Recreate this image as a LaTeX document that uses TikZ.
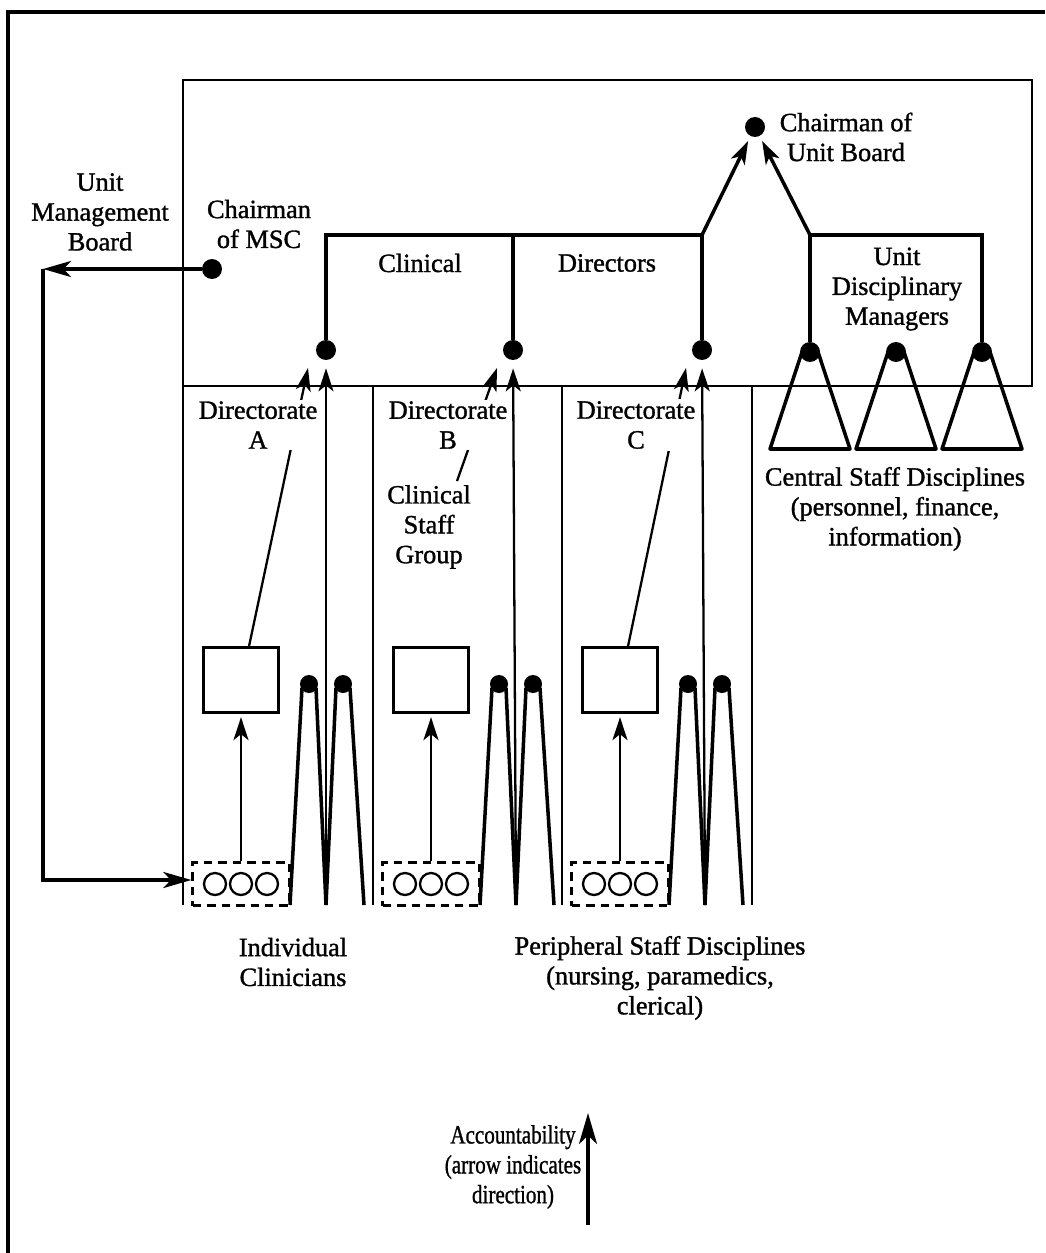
\documentclass[tikz,border=0pt]{standalone}
\usepackage{fontspec}
\setmainfont{Liberation Serif}[FakeBold=1.2]
\usetikzlibrary{arrows.meta,calc}

\begin{document}
\begin{tikzpicture}[x=0.02cm, y=-0.02cm,
    lbl/.style={font=\fontsize{15}{17}\selectfont, align=center, inner sep=1pt},
    wlbl/.style={lbl, fill=white},
    dot/.style={circle, fill=black, inner sep=0pt, minimum size=0.4cm},
    peak/.style={circle, fill=black, inner sep=0pt, minimum size=0.36cm},
    heavy/.style={line width=2pt},
    fine/.style={line width=1.3pt},
    tip/.style={-{Stealth[length=0.46cm, width=0.3cm, inset=0.12cm]}},
    bigtip/.style={-{Stealth[length=0.56cm, width=0.32cm, inset=0.15cm]}}]
  \useasboundingbox (0,0) rectangle (1045,1253);

  % frame
  \draw[heavy] (8,1253) -- (8,12) -- (1045,12);

  % unit box and the three columns
  \draw[fine] (183,905) -- (183,80) -- (1032,80) -- (1032,386) -- (183,386);
  \foreach \x in {373,562,752}
    \draw[fine] (\x,386) -- (\x,905);

  % dots
  \node[dot] (cub) at (755,127) {};
  \node[dot] (msc) at (212,269) {};
  \node[dot] (dA) at (326,350) {};
  \node[dot] (dB) at (513,350) {};
  \node[dot] (dC) at (702,350) {};

  % central staff disciplines
  \foreach \t/\m in {1/810,2/896,3/982} {
    \draw[heavy, line join=round] (\m-8,352) -- (\m-40,449) -- (\m+40,449) -- (\m+8,352);
    \node[dot] (t\t) at (\m,352) {};
  }

  % clinical directors and unit disciplinary managers
  \coordinate (jA) at (326,235);
  \coordinate (jB) at (513,235);
  \coordinate (jC) at (702,235);
  \coordinate (jU) at (810,235);
  \coordinate (jR) at (982,235);
  \draw[heavy] (dA) -- (jA) -- (jC) -- (dC);
  \draw[heavy] (jB) -- (dB);
  \draw[heavy] (t1) -- (jU) -- (jR) -- (t3);
  \draw[heavy, tip, shorten >=3pt] (jC) -- (cub);
  \draw[heavy, tip, shorten >=3pt] (jU) -- (cub);

  % directorates
  \foreach \x/\n in {183/A,373/B,562/C} {
    \node[draw, fine, minimum width=1.5cm, minimum height=1.3cm] (bx\n) at (\x+58,680) {};
    \node[draw, fine, dashed, dash pattern=on 0.17cm off 0.12cm,
          minimum width=1.94cm, minimum height=0.86cm] (ds\n) at (\x+58,884) {};
    \foreach \c in {-26,0,26}
      \draw[fine] (\x+58+\c,884) circle (0.22cm);
    \draw[fine, tip, shorten >=2pt] (ds\n) -- (bx\n);
    \coordinate (v\n) at (\x+143,905);
    \node[peak] (pl\n) at (\x+126,684) {};
    \node[peak] (pr\n) at (\x+160,684) {};
    \draw[heavy] (\x+107,905) -- (\x+119,688);
    \draw[heavy] (\x+133,688) -- (v\n) -- (\x+153,688);
    \draw[heavy] (\x+167,688) -- (\x+181,905);
    \draw[fine, tip, shorten >=0.16cm] (v\n) -- (d\n);
  }

  % slanted arrows
  \coordinate (sA) at (308,368);
  \coordinate (sB) at (497,368);
  \coordinate (sC) at (686,368);
  \node[wlbl] (csg) at (429,527) {Clinical\\Staff\\Group};
  \draw[fine, tip] ($(bxA.north)+(8,0)$) -- (sA);
  \draw[fine, tip] ($(csg.north)+(28,-2)$) -- (sB);
  \draw[fine, tip] ($(bxC.north)+(8,0)$) -- (sC);
  \node[wlbl] (lA) at (258,425) {Directorate\\A};
  \node[wlbl] (lB) at (448,425) {Directorate\\B};
  \node[wlbl] (lC) at (636,425) {Directorate\\C};

  % unit management board
  \coordinate (lc) at (43,269);
  \draw[heavy, bigtip] (msc) -- (lc);
  \draw[heavy, bigtip] (lc) -- (43,880) -- (dsA.west |- 0,880);

  % labels
  \node[lbl] (umb) at (100,212) {Unit\\Management\\Board};
  \node[lbl] (cmsc) at (259,224) {Chairman\\of MSC};
  \node[lbl] (cubl) at (846,137) {Chairman of\\Unit Board};
  \node[lbl] (clin) at (420,263) {Clinical};
  \node[lbl] (dirs) at (607,263) {Directors};
  \node[lbl] (udm) at (897,289) {Unit\\Disciplinary\\Managers};
  \node[lbl] (csd) at (895,509) {Central Staff Disciplines\\(personnel, finance,\\information)};
  \node[lbl] (ic) at (293,962) {Individual\\Clinicians};
  \node[lbl] (psd) at (660,978) {Peripheral Staff Disciplines\\(nursing, paramedics,\\clerical)};

  % key
  \coordinate (aB) at (588,1225);
  \coordinate (aT) at (588,1113);
  \draw[heavy, -{Stealth[length=0.62cm, width=0.36cm, inset=0.17cm]}] (aB) -- (aT);
  \node[lbl] (acc) at (513,1167) {\scalebox{0.8}[1]{Accountability}\\
    \scalebox{0.8}[1]{(arrow indicates}\\\scalebox{0.8}[1]{direction)}};
\end{tikzpicture}
\end{document}
